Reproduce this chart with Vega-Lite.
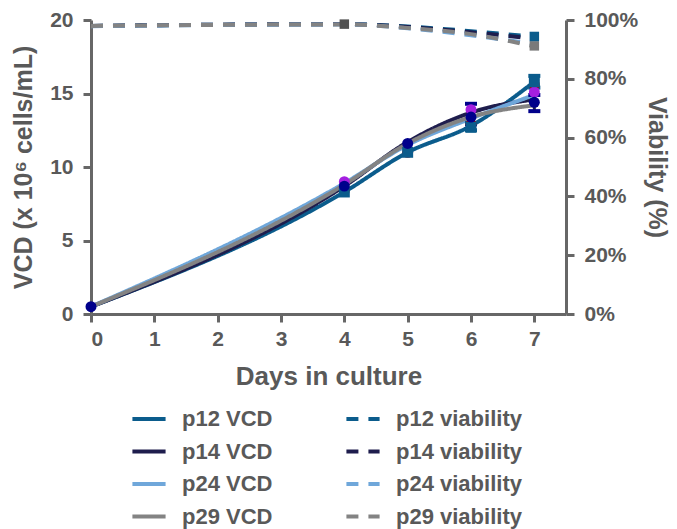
{
  "$schema": "https://vega.github.io/schema/vega-lite/v6.json",
  "width": 475,
  "height": 294,
  "autosize": {"type": "none"},
  "padding": {"left": 91, "top": 20, "right": 111, "bottom": 215},
  "config": {
    "font": "Liberation Sans",
    "view": {"stroke": null},
    "axis": {
      "grid": false,
      "labelFont": "Liberation Sans",
      "labelFontWeight": "bold",
      "labelFontSize": 21,
      "labelColor": "#595959",
      "titleFont": "Liberation Sans",
      "titleFontWeight": "bold",
      "titleFontSize": 25,
      "titleColor": "#595959",
      "domainColor": "#676767",
      "domainWidth": 3,
      "tickColor": "#676767",
      "tickWidth": 3,
      "tickSize": 8
    },
    "legend": {
      "labelFont": "Liberation Sans",
      "labelFontWeight": "bold",
      "labelFontSize": 22,
      "labelColor": "#595959"
    }
  },
  "datasets": {
    "vcd": [
      {"day": 0, "series": "p12 VCD", "vcd": 0.5},
      {"day": 4, "series": "p12 VCD", "vcd": 8.3},
      {"day": 5, "series": "p12 VCD", "vcd": 11.0},
      {"day": 6, "series": "p12 VCD", "vcd": 12.8},
      {"day": 7, "series": "p12 VCD", "vcd": 15.8},
      {"day": 0, "series": "p14 VCD", "vcd": 0.5},
      {"day": 4, "series": "p14 VCD", "vcd": 8.7},
      {"day": 5, "series": "p14 VCD", "vcd": 11.7},
      {"day": 6, "series": "p14 VCD", "vcd": 13.7},
      {"day": 7, "series": "p14 VCD", "vcd": 14.6},
      {"day": 0, "series": "p24 VCD", "vcd": 0.5},
      {"day": 4, "series": "p24 VCD", "vcd": 8.9},
      {"day": 5, "series": "p24 VCD", "vcd": 11.5},
      {"day": 6, "series": "p24 VCD", "vcd": 13.3},
      {"day": 7, "series": "p24 VCD", "vcd": 14.9},
      {"day": 0, "series": "p29 VCD", "vcd": 0.5},
      {"day": 4, "series": "p29 VCD", "vcd": 8.8},
      {"day": 5, "series": "p29 VCD", "vcd": 11.6},
      {"day": 6, "series": "p29 VCD", "vcd": 13.4},
      {"day": 7, "series": "p29 VCD", "vcd": 14.2}
    ],
    "via": [
      {"day": 0, "series": "p12 viability", "via": 98.0},
      {"day": 4, "series": "p12 viability", "via": 98.6},
      {"day": 5, "series": "p12 viability", "via": 97.8},
      {"day": 6, "series": "p12 viability", "via": 96.2},
      {"day": 7, "series": "p12 viability", "via": 94.3},
      {"day": 0, "series": "p14 viability", "via": 98.0},
      {"day": 4, "series": "p14 viability", "via": 98.6},
      {"day": 5, "series": "p14 viability", "via": 97.6},
      {"day": 6, "series": "p14 viability", "via": 95.8},
      {"day": 7, "series": "p14 viability", "via": 93.6},
      {"day": 0, "series": "p24 viability", "via": 97.9},
      {"day": 4, "series": "p24 viability", "via": 98.5},
      {"day": 5, "series": "p24 viability", "via": 97.2},
      {"day": 6, "series": "p24 viability", "via": 94.8},
      {"day": 7, "series": "p24 viability", "via": 91.8},
      {"day": 0, "series": "p29 viability", "via": 98.0},
      {"day": 4, "series": "p29 viability", "via": 98.5},
      {"day": 5, "series": "p29 viability", "via": 97.3},
      {"day": 6, "series": "p29 viability", "via": 95.2},
      {"day": 7, "series": "p29 viability", "via": 91.0}
    ],
    "pts": [
      {"day": 4, "grp": "red", "vcd": 8.4},
      {"day": 5, "grp": "red", "vcd": 11.0},
      {"day": 6, "grp": "red", "vcd": 12.9},
      {"day": 7, "grp": "red", "vcd": 15.6},
      {"day": 4, "grp": "purple", "vcd": 9.0},
      {"day": 6, "grp": "purple", "vcd": 13.9},
      {"day": 7, "grp": "purple", "vcd": 15.1},
      {"day": 4, "grp": "sq", "vcd": 8.3},
      {"day": 5, "grp": "sq", "vcd": 11.0},
      {"day": 6, "grp": "sq", "vcd": 12.7, "lo": 12.5, "hi": 13.0},
      {"day": 7, "grp": "sq", "vcd": 15.8, "lo": 15.4, "hi": 16.2},
      {"day": 0, "grp": "navy", "vcd": 0.5},
      {"day": 4, "grp": "navy", "vcd": 8.7},
      {"day": 5, "grp": "navy", "vcd": 11.6},
      {"day": 6, "grp": "navy", "vcd": 13.4, "lo": 12.9, "hi": 14.3},
      {"day": 7, "grp": "navy", "vcd": 14.4, "lo": 13.8, "hi": 14.9}
    ],
    "vpts": [
      {"day": 4, "grp": "dk", "via": 98.6},
      {"day": 7, "grp": "v29", "via": 91.2, "lo": 90.4, "hi": 92.0},
      {"day": 7, "grp": "v12", "via": 94.4}
    ]
  },
  "encoding": {
    "x": {
      "field": "day",
      "type": "quantitative",
      "scale": {"domain": [0, 7.5], "nice": false, "zero": false},
      "axis": {
        "values": [0, 1, 2, 3, 4, 5, 6, 7],
        "title": "Days in culture",
        "titleFontSize": 26,
        "labelPadding": 6,
        "titlePadding": 14
      }
    }
  },
  "layer": [
    {
      "layer": [
        {
          "data": {"name": "vcd"},
          "mark": {"type": "line", "interpolate": "monotone", "strokeWidth": 4},
          "encoding": {
            "y": {
              "field": "vcd",
              "type": "quantitative",
              "scale": {"domain": [0, 20], "nice": false},
              "axis": {
                "orient": "left",
                "values": [0, 5, 10, 15, 20],
                "title": "VCD (x 10⁶ cells/mL)",
                "labelPadding": 10,
                "titlePadding": 13
              }
            },
            "color": {
              "field": "series",
              "type": "nominal",
              "sort": null,
              "scale": {
                "domain": ["p12 VCD", "p14 VCD", "p24 VCD", "p29 VCD", "p12 viability", "p14 viability", "p24 viability", "p29 viability"],
                "range": ["#0b5c8c", "#1e1d4d", "#6fa7da", "#838383", "#0b5c8c", "#1e1d4d", "#6fa7da", "#838383"]
              },
              "legend": {
                "title": null,
                "orient": "none",
                "legendX": 39,
                "legendY": 380,
                "columns": 2,
                "padding": 0,
                "symbolType": "stroke",
                "symbolSize": 1100,
                "symbolStrokeWidth": 4,
                "labelOffset": 14,
                "columnPadding": 65,
                "rowPadding": 2.5
              }
            },
            "strokeDash": {
              "field": "series",
              "type": "nominal",
              "sort": null,
              "scale": {
                "domain": ["p12 VCD", "p14 VCD", "p24 VCD", "p29 VCD", "p12 viability", "p14 viability", "p24 viability", "p29 viability"],
                "range": [[1, 0], [1, 0], [1, 0], [1, 0], [12, 10], [12, 10], [12, 10], [12, 10]]
              },
              "legend": {
                "title": null,
                "orient": "none",
                "legendX": 39,
                "legendY": 380,
                "columns": 2,
                "padding": 0,
                "symbolType": "stroke",
                "symbolSize": 1100,
                "symbolStrokeWidth": 4,
                "labelOffset": 14,
                "columnPadding": 65,
                "rowPadding": 2.5
              }
            }
          }
        },
        {
          "data": {"name": "pts"},
          "transform": [{"filter": "isValid(datum.lo)"}],
          "mark": {"type": "rule", "strokeWidth": 3},
          "encoding": {
            "y": {"field": "lo", "type": "quantitative", "scale": {"domain": [0, 20], "nice": false}},
            "y2": {"field": "hi"},
            "stroke": {"field": "grp", "type": "nominal", "scale": {"domain": ["sq", "navy"], "range": ["#0b5c8c", "#1e1d4d"]}, "legend": null}
          }
        },
        {
          "data": {"name": "pts"},
          "transform": [{"filter": "isValid(datum.lo)"}],
          "mark": {"type": "tick", "orient": "horizontal", "size": 12, "thickness": 4, "opacity": 1},
          "encoding": {
            "y": {"field": "lo", "type": "quantitative", "scale": {"domain": [0, 20], "nice": false}},
            "fill": {"field": "grp", "type": "nominal", "legend": null}
          }
        },
        {
          "data": {"name": "pts"},
          "transform": [{"filter": "isValid(datum.hi)"}],
          "mark": {"type": "tick", "orient": "horizontal", "size": 12, "thickness": 4, "opacity": 1},
          "encoding": {
            "y": {"field": "hi", "type": "quantitative", "scale": {"domain": [0, 20], "nice": false}},
            "fill": {"field": "grp", "type": "nominal", "legend": null}
          }
        },
        {
          "data": {"name": "pts"},
          "mark": {"type": "point", "filled": true, "opacity": 1, "size": 120},
          "encoding": {
            "y": {"field": "vcd", "type": "quantitative", "scale": {"domain": [0, 20], "nice": false}},
            "fill": {"field": "grp", "type": "nominal", "scale": {"domain": ["red", "purple", "sq", "navy"], "range": ["#b00000", "#a41fe0", "#0b5c8c", "#00008b"]}, "legend": null},
            "shape": {"field": "grp", "type": "nominal", "scale": {"domain": ["red", "purple", "sq", "navy"], "range": ["circle", "circle", "square", "circle"]}, "legend": null}
          }
        }
      ]
    },
    {
      "layer": [
        {
          "data": {"name": "via"},
          "mark": {"type": "line", "interpolate": "monotone", "strokeWidth": 4},
          "encoding": {
            "y": {
              "field": "via",
              "type": "quantitative",
              "scale": {"domain": [0, 100], "nice": false},
              "axis": {
                "orient": "right",
                "values": [0, 20, 40, 60, 80, 100],
                "labelExpr": "datum.value + '%'",
                "title": "Viability (%)",
                "labelPadding": 10,
                "titlePadding": 6
              }
            },
            "color": {"field": "series", "type": "nominal", "sort": null},
            "strokeDash": {"field": "series", "type": "nominal", "sort": null}
          }
        },
        {
          "data": {"name": "vpts"},
          "transform": [{"filter": "isValid(datum.lo)"}],
          "mark": {"type": "rule", "strokeWidth": 3, "color": "#555555"},
          "encoding": {
            "y": {"field": "lo", "type": "quantitative", "scale": {"domain": [0, 100], "nice": false}},
            "y2": {"field": "hi"}
          }
        },
        {
          "data": {"name": "vpts"},
          "mark": {"type": "point", "filled": true, "opacity": 1, "size": 90, "shape": "square"},
          "encoding": {
            "y": {"field": "via", "type": "quantitative", "scale": {"domain": [0, 100], "nice": false}},
            "fill": {"field": "grp", "type": "nominal", "scale": {"domain": ["dk", "v29", "v12"], "range": ["#505050", "#7a7a7a", "#0b5c8c"]}, "legend": null}
          }
        }
      ]
    }
  ],
  "resolve": {"scale": {"y": "independent", "fill": "independent"}}
}
